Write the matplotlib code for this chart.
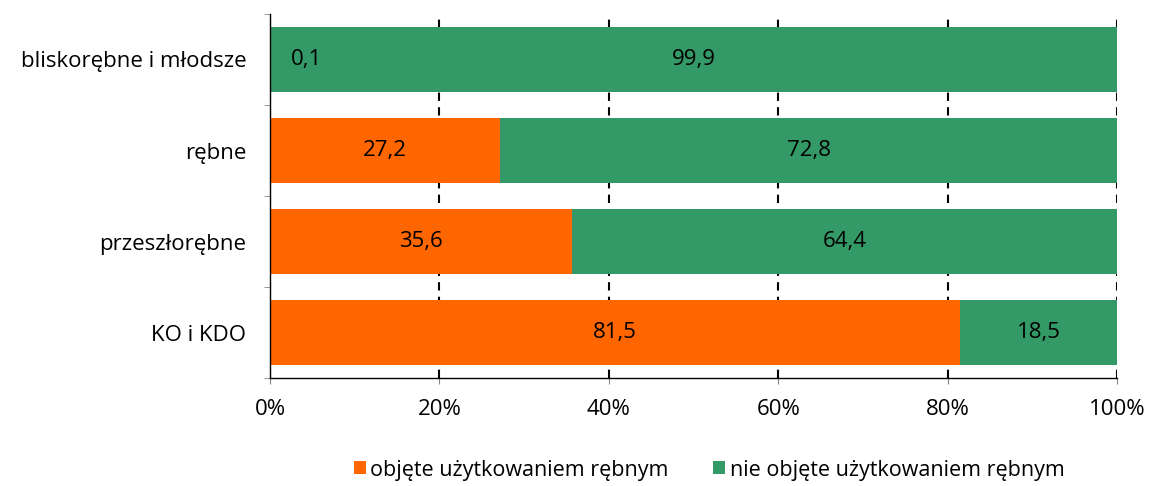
import numpy as np
import matplotlib
matplotlib.use("Agg")
import matplotlib.pyplot as plt
from matplotlib.ticker import FuncFormatter

plt.rcParams["font.family"] = ["Open Sans", "DejaVu Sans"]

categories = ["bliskorębne i młodsze", "rębne", "przeszłorębne", "KO i KDO"]
objete = [0.1, 27.2, 35.6, 81.5]
nie_objete = [99.9, 72.8, 64.4, 18.5]
series_names = ["objęte użytkowaniem rębnym", "nie objęte użytkowaniem rębnym"]
colors = ["#FF6600", "#339966"]
FS = 16

fig = plt.figure(figsize=(11.49, 4.86), dpi=100)
ax = fig.add_axes([270 / 1149, 1 - 378 / 486, 847 / 1149, 364 / 486])

y = np.arange(len(categories))
h = 0.71
ax.barh(y, objete, height=h, color=colors[0], label=series_names[0], zorder=2)
ax.barh(y, nie_objete, left=objete, height=h, color=colors[1], label=series_names[1], zorder=2)

for i in range(len(categories)):
    o, n = objete[i], nie_objete[i]
    ox = o / 2 if o > 5 else 4.3
    ax.text(ox, y[i], f"{o:.1f}".replace(".", ","), ha="center", va="center", fontsize=FS, zorder=3)
    ax.text(o + n / 2, y[i], f"{n:.1f}".replace(".", ","), ha="center", va="center", fontsize=FS, zorder=3)

ax.set_xlim(0, 100)
ax.set_ylim(len(categories) - 0.5, -0.5)
ax.set_xticks(np.arange(0, 101, 20))
ax.xaxis.set_major_formatter(FuncFormatter(lambda v, p: f"{v:.0f}%"))
ax.set_yticks(y)
ax.set_yticklabels(categories)
ax.set_yticks(np.arange(-0.5, len(categories), 1), minor=True)
ax.tick_params(axis="y", which="major", length=0, pad=17, labelsize=FS)
ax.tick_params(axis="y", which="minor", length=4, direction="out", color="#888888")
ax.tick_params(axis="x", length=4, direction="out", color="#888888", labelsize=FS, pad=11)

ax.xaxis.grid(True, color="black", linestyle=(0, (4, 3)), linewidth=1.5, zorder=1)
ax.set_axisbelow(True)
for s in ("top", "right"):
    ax.spines[s].set_visible(False)
for s in ("left", "bottom"):
    ax.spines[s].set_color("black")
    ax.spines[s].set_linewidth(1.0)

fig.legend(loc="center", bbox_to_anchor=(709 / 1149, 1 - 470 / 486), ncol=2, frameon=False,
           fontsize=15.5, handlelength=0.55, handleheight=0.55, handletextpad=0.2,
           columnspacing=2.1)

fig.savefig("out.png", dpi=100)
